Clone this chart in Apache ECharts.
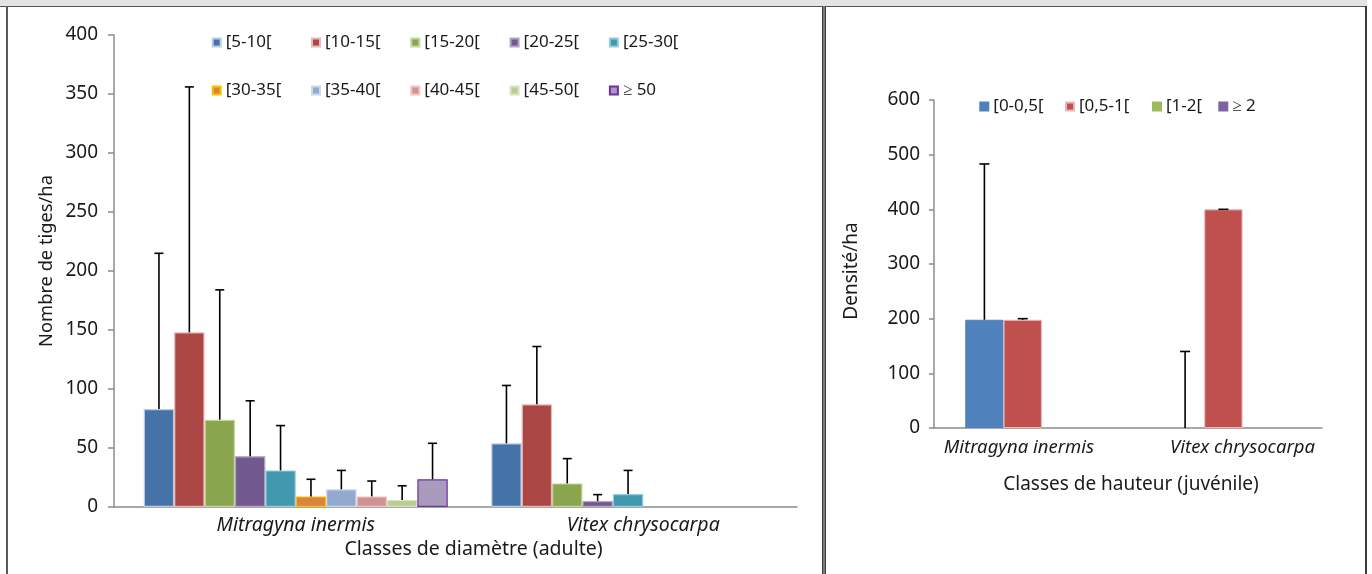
<!DOCTYPE html>
<html>
<head>
<meta charset="utf-8">
<script src="https://cdn.jsdelivr.net/npm/echarts@6/dist/echarts.min.js"></script>
<style>
  html, body { margin:0; padding:0; background:#fff; }
  #wrap { position:relative; width:1372px; height:574px; overflow:hidden; }
  .fr { position:absolute; }
  #chart { position:absolute; left:0; top:0; width:1372px; height:574px; }
</style>
</head>
<body>
<div id="wrap">
  <div class="fr" style="left:0;top:0;width:1367px;height:6px;background:#e4e4e4;"></div>
  <div class="fr" style="left:0;top:6px;width:1367px;height:1px;background:#555;"></div>
  <div class="fr" style="left:6px;top:6px;width:2px;height:568px;background:#5a5a5a;"></div>
  <div class="fr" style="left:822px;top:6px;width:1px;height:568px;background:#444;"></div>
  <div class="fr" style="left:823px;top:6px;width:2px;height:568px;background:#7a7a7a;"></div>
  <div class="fr" style="left:825px;top:6px;width:1px;height:568px;background:#444;"></div>
  <div class="fr" style="left:1365px;top:6px;width:2px;height:568px;background:#3a3a3a;"></div>
  <div id="chart"></div>
</div>
<script>
// ---------- DATA ----------
const species = ['Mitragyna inermis', 'Vitex chrysocarpa'];

// Left: diameter classes (adults), stems/ha
const diamClasses = ['[5-10[', '[10-15[', '[15-20[', '[20-25[', '[25-30[', '[30-35[', '[35-40[', '[40-45[', '[45-50[', '\u2265 50'];
const adultMitragyna       = [83, 148, 74, 43, 31, 9, 15, 9, 6, 23.5];
const adultMitragynaErrTop = [215, 356, 184, 90, 69, 23.5, 31, 22, 18, 54];
const adultVitex           = [54, 87, 20, 5, 11, 0, 0, 0, 0, 0];
const adultVitexErrTop     = [103, 136, 41, 10.5, 31, 0, 0, 0, 0, 0];
const adultTicks = [0, 50, 100, 150, 200, 250, 300, 350, 400];

// Right: height classes (juveniles), density/ha
const heightClasses = ['[0-0,5[', '[0,5-1[', '[1-2[', '\u2265 2'];
const juvMitragyna       = [198, 198, 0, 0];
const juvMitragynaErrTop = [483, 200, 0, 0];
const juvVitex           = [0, 400, 0, 0];
const juvVitexErrTop     = [140, 400, 0, 0];
const juvTicks = [0, 100, 200, 300, 400, 500, 600];

// ---------- STYLE ----------
const FONT = 'Noto Sans';
const leftColors  = ['#4572A7', '#AA4643', '#89A54E', '#71588F', '#4198AF', '#DB843D', '#93A9CF', '#D19392', '#B9CD96', '#A99BBD'];
const leftBorders = ['#b9cde5', '#e6b9b8', '#c3d69b', '#b3a2c7', '#93cddd', '#ffc000', '#c6d9f1', '#f2c4c4', '#d7e4bd', '#7030a0'];
const rightColors  = ['#4F81BD', '#C0504D', '#9BBB59', '#8064A2'];
const rightBorders = ['#4F81BD', '#e6b9b8', '#9BBB59', '#8064A2'];

const LBW = 30.4, RBW = 38.3;

function errRender(idx, n, barW, capW) {
  return function (params, api) {
    const cat = api.value(0), lo = api.value(1), hi = api.value(2);
    const p0 = api.coord([cat, lo]);
    const p1 = api.coord([cat, hi]);
    const x = p0[0] + (idx - (n - 1) / 2) * barW;
    const st = { stroke: '#000', lineWidth: 1.6 };
    const ch = [];
    if (hi > lo) ch.push({ type: 'line', shape: { x1: x, y1: p0[1], x2: x, y2: p1[1] }, style: st });
    ch.push({ type: 'line', shape: { x1: x - capW / 2, y1: p1[1], x2: x + capW / 2, y2: p1[1] }, style: st });
    return { type: 'group', children: ch };
  };
}

function errData(vals, tops) {
  const out = [];
  vals.forEach(function (v, c) {
    if (tops[c] > 0) out.push([c, v, tops[c]]);
  });
  return out;
}

const series = [];
diamClasses.forEach(function (name, i) {
  series.push({
    name: name, type: 'bar', xAxisIndex: 1, yAxisIndex: 1,
    barWidth: LBW, barGap: '0%',
    itemStyle: { color: leftColors[i], borderColor: leftBorders[i], borderWidth: 1.2 },
    data: [adultMitragyna[i], adultVitex[i]].map(v => v === 0 ? '-' : v),
    z: 2
  });
});
diamClasses.forEach(function (name, i) {
  series.push({
    name: 'err-' + name, type: 'custom', xAxisIndex: 1, yAxisIndex: 1,
    renderItem: errRender(i, diamClasses.length, LBW, 9),
    encode: { x: 0, y: [1, 2] },
    data: errData([adultMitragyna[i], adultVitex[i]], [adultMitragynaErrTop[i], adultVitexErrTop[i]]),
    z: 5, silent: true
  });
});
heightClasses.forEach(function (name, i) {
  series.push({
    name: name, type: 'bar', xAxisIndex: 3, yAxisIndex: 3,
    barWidth: RBW, barGap: '0%',
    itemStyle: { color: rightColors[i], borderColor: rightBorders[i], borderWidth: 1 },
    data: [juvMitragyna[i], juvVitex[i]].map(v => v === 0 ? '-' : v),
    z: 2
  });
});
heightClasses.forEach(function (name, i) {
  series.push({
    name: 'err-' + name, type: 'custom', xAxisIndex: 3, yAxisIndex: 3,
    renderItem: errRender(i, heightClasses.length, RBW, 10),
    encode: { x: 0, y: [1, 2] },
    data: errData([juvMitragyna[i], juvVitex[i]], [juvMitragynaErrTop[i], juvVitexErrTop[i]]),
    z: 5, silent: true
  });
});

const txt = { fontFamily: FONT, fontSize: 17, color: '#1a1a1a' };
const tickTxt = { fontFamily: FONT, fontSize: 19, color: '#1a1a1a' };
const nameTxt = { fontFamily: FONT, fontSize: 19.5, color: '#1a1a1a' };
const catTxt = { fontFamily: FONT, fontSize: 19.5, color: '#1a1a1a', fontStyle: 'italic' };
const catTxtR = { fontFamily: FONT, fontSize: 18.5, color: '#1a1a1a', fontStyle: 'italic' };

const legends = [];
diamClasses.forEach(function (name, i) {
  legends.push({
    data: [name], left: 211.7 + (i % 5) * 99.3, top: 34 + Math.floor(i / 5) * 48,
    padding: 0, itemWidth: 8, itemHeight: 8, icon: 'rect', itemGap: 0,
    textStyle: txt, selectedMode: false
  });
});
const rLeft = [979.3, 1065, 1152, 1218.3];
heightClasses.forEach(function (name, i) {
  legends.push({
    data: [name], left: rLeft[i], top: 98,
    padding: 0, itemWidth: 8, itemHeight: 8, icon: 'rect', itemGap: 0,
    textStyle: txt, selectedMode: false
  });
});

const axisLineGray = { show: true, lineStyle: { color: '#8c8c8c', width: 1.5 } };

const option = {
  animation: false,
  textStyle: { fontFamily: FONT },
  legend: legends,
  grid: [
    { left: 114, top: 35, width: 683, height: 472 },   // left display
    { left: 122, top: 35, width: 695, height: 472 },   // left bars
    { left: 934, top: 100, width: 388, height: 328 },  // right display
    { left: 941.5, top: 100, width: 401.4, height: 328 } // right bars
  ],
  xAxis: [
    { gridIndex: 0, type: 'category', data: species, axisLine: axisLineGray, axisTick: { show: false }, axisLabel: { show: false },
      name: 'Classes de diam\u00e8tre (adulte)', nameLocation: 'middle', nameGap: 32,
      nameTextStyle: Object.assign({}, nameTxt, { padding: [0, 0, 0, 36] }) },
    { gridIndex: 1, type: 'category', data: species, axisLine: { show: false }, axisTick: { show: false },
      axisLabel: Object.assign({}, catTxt, { margin: 8, interval: 0 }) },
    { gridIndex: 2, type: 'category', data: species, axisLine: axisLineGray, axisTick: { show: false }, axisLabel: { show: false },
      name: 'Classes de hauteur (juv\u00e9nile)', nameLocation: 'middle', nameGap: 47,
      nameTextStyle: Object.assign({}, nameTxt, { fontSize: 19, padding: [0, 0, 0, 6] }) },
    { gridIndex: 3, type: 'category', data: species, axisLine: { show: false }, axisTick: { show: false },
      axisLabel: Object.assign({}, catTxtR, {
        margin: 10, interval: 0, hideOverlap: false,
        formatter: function (v, i) { return i === 0 ? '{m|' + v + '}' : '{n|' + v + '}'; },
        rich: {
          m: Object.assign({}, catTxtR, { padding: [0, 46, 0, 0] }),
          n: Object.assign({}, catTxtR)
        }
      }) }
  ],
  yAxis: [
    { gridIndex: 0, type: 'value', min: adultTicks[0], max: adultTicks[adultTicks.length - 1], interval: adultTicks[1] - adultTicks[0],
      axisLine: axisLineGray, axisTick: { show: true, length: 6, lineStyle: { color: '#8c8c8c', width: 1.5 } },
      splitLine: { show: false }, axisLabel: Object.assign({}, tickTxt, { margin: 16 }),
      name: 'Nombre de tiges/ha', nameLocation: 'middle', nameGap: 58,
      nameTextStyle: Object.assign({}, nameTxt, { fontSize: 18.3, padding: [0, 0, 0, 20] }) },
    { gridIndex: 1, type: 'value', min: adultTicks[0], max: adultTicks[adultTicks.length - 1], interval: adultTicks[1] - adultTicks[0], show: false, splitLine: { show: false } },
    { gridIndex: 2, type: 'value', min: juvTicks[0], max: juvTicks[juvTicks.length - 1], interval: juvTicks[1] - juvTicks[0],
      axisLine: axisLineGray, axisTick: { show: true, length: 5, lineStyle: { color: '#8c8c8c', width: 1.5 } },
      splitLine: { show: false }, axisLabel: Object.assign({}, tickTxt, { margin: 14 }),
      name: 'Densit\u00e9/ha', nameLocation: 'middle', nameGap: 73,
      nameTextStyle: Object.assign({}, nameTxt, { fontSize: 19, padding: [0, 14, 0, 0] }) },
    { gridIndex: 3, type: 'value', min: juvTicks[0], max: juvTicks[juvTicks.length - 1], interval: juvTicks[1] - juvTicks[0], show: false, splitLine: { show: false } }
  ],
  series: series
};

const chart = echarts.init(document.getElementById('chart'), null, { renderer: 'canvas' });
chart.setOption(option);
</script>
</body>
</html>
